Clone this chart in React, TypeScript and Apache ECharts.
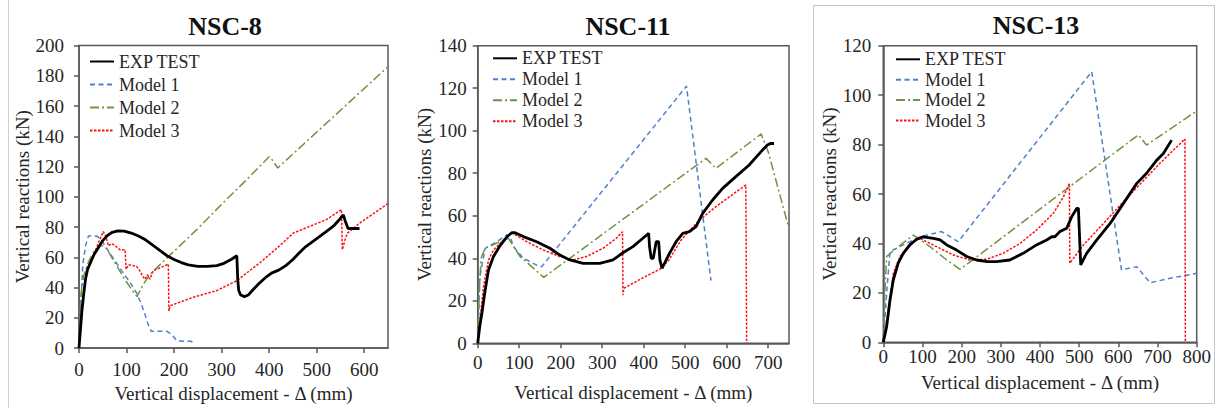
import React, { useEffect, useRef } from "react";
import * as echarts from "echarts";

const FONT = "Liberation Serif";

const seriesNames = ["EXP TEST", "Model 1", "Model 2", "Model 3"];
const panelTitles = ["NSC-8", "NSC-11", "NSC-13"];
const xAxisTitle = "Vertical displacement - Δ (mm)";
const yAxisTitle = "Vertical reactions (kN)";

const xMaxes = [650, 750, 800];
const yMaxes = [200, 140, 120];
const xTicks8 = [0, 100, 200, 300, 400, 500, 600];
const xTicks11 = [0, 100, 200, 300, 400, 500, 600, 700];
const xTicks13 = [0, 100, 200, 300, 400, 500, 600, 700, 800];
const yTicks8 = [0, 20, 40, 60, 80, 100, 120, 140, 160, 180, 200];
const yTicks11 = [0, 20, 40, 60, 80, 100, 120, 140];
const yTicks13 = [0, 20, 40, 60, 80, 100, 120];

// ---------- NSC-8 ----------
const nsc8Exp = [
  [0, 0], [3, 12], [6, 24], [10, 36], [14, 46], [18, 52], [25, 57], [32, 62], [40, 66], [50, 71],
  [60, 74.5], [70, 76.5], [82, 77.5], [95, 77.3], [110, 76], [125, 74], [140, 71.5], [155, 68],
  [170, 64.5], [185, 61], [200, 58.5], [215, 56.5], [230, 55], [250, 54], [270, 54], [290, 54.5],
  [305, 56], [320, 58.5], [332, 61], [334, 45], [336, 38], [340, 35], [348, 34], [356, 35],
  [366, 38.5], [378, 42.5], [392, 46.5], [405, 49.5], [420, 51.5], [435, 54.5], [450, 58.5],
  [462, 62.5], [475, 66.5], [490, 70], [505, 73.5], [520, 77], [535, 80.5], [548, 85], [556, 88],
  [560, 84], [566, 79], [575, 79], [590, 79],
];
const nsc8M1 = [
  [0, 0], [4, 30], [8, 55], [14, 68], [20, 74], [30, 74.5], [40, 73.5], [50, 70], [60, 65], [75, 58],
  [90, 51], [105, 44.5], [120, 37], [130, 30], [138, 23], [145, 16], [152, 11], [170, 11], [185, 11],
  [195, 9], [205, 5], [215, 4.5], [235, 4.5], [242, 3.5],
];
const nsc8M2 = [
  [0, 0], [2, 20], [5, 38], [10, 48], [20, 57], [32, 64], [45, 68], [55, 67], [65, 62], [80, 54],
  [95, 46], [110, 39], [122, 34], [135, 42], [150, 49], [200, 64], [250, 79], [300, 95], [350, 110.5],
  [400, 126.5], [405, 125], [418, 119], [650, 186],
];
const nsc8M3 = [
  [0, 0], [2, 15], [9, 34], [16, 51], [30, 61], [44, 72], [51, 77], [56, 74], [58, 72], [62, 67.5],
  [68, 69], [75, 68], [86, 65], [97, 65], [99, 52], [104, 55], [112, 54.5], [121, 54], [128, 51],
  [135, 47], [139, 45.5], [144, 48.5], [149, 45.5], [156, 51], [170, 53], [188, 55.5], [189, 24.5],
  [192, 28], [240, 33.5], [290, 38], [332, 44.5], [381, 56.5], [420, 67], [451, 76], [490, 81],
  [521, 85], [552, 91.5], [554, 65], [560, 72], [565, 76], [590, 82.5], [620, 89], [650, 95.5],
];

// ---------- NSC-11 ----------
const nsc11Exp = [
  [0, 0], [5, 8], [10, 14], [18, 25], [26, 34.5], [38, 40.8], [54, 46], [70, 50], [82, 52], [90, 52],
  [110, 50.2], [142, 47.8], [174, 44.7], [198, 41.5], [222, 39.2], [254, 37.6], [294, 37.6],
  [326, 39.2], [350, 42.6], [374, 45.5], [398, 49.4], [412, 51.7], [414, 45.5], [418, 40], [423, 40],
  [430, 47.8], [436, 47.8], [439, 39.2], [444, 35.3], [450, 37.6], [462, 42.3], [478, 47.8],
  [494, 51.7], [510, 52.5], [526, 54.9], [542, 61.1], [566, 67.4], [590, 72.9], [622, 78.4],
  [654, 83.9], [686, 90.9], [698, 93.3], [705, 94], [714, 94],
];
const nsc11M1 = [
  [0, 0], [5, 31], [18, 44.7], [46, 47.8], [70, 51], [78, 50.5], [86, 45.5], [110, 40], [142, 36.8],
  [154, 36], [503, 121], [562, 29.5],
];
const nsc11M2 = [
  [0, 0], [4, 25], [8, 40], [18, 44.7], [45, 47], [74, 49.4], [102, 40.8], [126, 36.8], [159, 31],
  [550, 87], [574, 82.3], [683, 98.5], [700, 90], [750, 54],
];
const nsc11M3 = [
  [0, 0], [6, 12], [14, 26.6], [26, 39.2], [38, 43.9], [62, 48.6], [82, 52], [118, 47.8], [158, 43.9],
  [198, 40.8], [230, 39.2], [262, 40.8], [302, 44.7], [334, 49.4], [349, 52.5], [350, 22.7],
  [352, 25.9], [400, 31], [440, 35], [460, 39], [490, 48.6], [530, 57.2], [574, 64.3], [646, 74.5],
  [648, 0],
];

// ---------- NSC-13 ----------
const nsc13Exp = [
  [0, 0], [8.5, 6.3], [17, 17], [25.5, 25.2], [38, 32], [51, 36], [68, 39.4], [85, 41.7], [102, 42.7],
  [128, 42], [145, 41.4], [162, 39.4], [187, 37.3], [213, 34.7], [238, 33.3], [265, 32.6],
  [289, 32.6], [323, 33.3], [357, 36], [391, 39.4], [417, 41.4], [430, 42.7], [438, 42.7],
  [451, 44.8], [468, 46.1], [481, 50.8], [494, 54.2], [498, 54.2], [504, 31.3], [519, 36],
  [545, 41.4], [579, 48.1], [613, 56.2], [647, 64.3], [672, 68.4], [698, 73.7], [715, 76.4],
  [736, 81.8],
];
const nsc13M1 = [
  [0, 0], [8.5, 19.8], [17, 36.7], [51, 39.4], [94, 42.7], [149, 44.8], [191, 40.7], [532, 109.5],
  [608, 29.3], [647, 30.6], [681, 24.1], [732, 25.9], [800, 27.9],
];
const nsc13M2 = [
  [0, 0], [4, 20], [8.5, 34.7], [38, 38.7], [77, 43.4], [119, 38.7], [162, 33.3], [196, 29.5],
  [651, 83.9], [672, 79.8], [800, 93.6],
];
const nsc13M3 = [
  [0, 0], [8.5, 7.7], [25.5, 27.8], [42.6, 34.7], [68, 40], [94, 42], [136, 38.7], [179, 35.3],
  [221, 33.3], [264, 33.6], [306, 36], [349, 40], [391, 45.4], [434, 52.2], [460, 58.9], [475, 64.3],
  [476, 32], [511, 39.4], [562, 48.1], [613, 56.9], [706, 72.4], [770, 82.3], [771, 0],
];

const panelData = [
  [nsc8Exp, nsc8M1, nsc8M2, nsc8M3],
  [nsc11Exp, nsc11M1, nsc11M2, nsc11M3],
  [nsc13Exp, nsc13M1, nsc13M2, nsc13M3],
];
const xTickSets = [xTicks8, xTicks11, xTicks13];
const yTickSets = [yTicks8, yTicks11, yTicks13];

// layout (pixels)
const layout = [
  { left: 79, top: 45.5, width: 309, height: 303.5, titleX: 225, titleY: 26, yLabelMargin: 15, xLabelMargin: 12, xNameGap: 36, yNameGap: 46, legLeft: 89, legTop: 52.5, legGap: 5 },
  { left: 477.7, top: 45.7, width: 311.3, height: 297.6, titleX: 628, titleY: 26, yLabelMargin: 11, xLabelMargin: 10, xNameGap: 40, yNameGap: 42, legLeft: 492, legTop: 49.3, legGap: 3 },
  { left: 883.3, top: 45.7, width: 313.4, height: 296.6, titleX: 1036, titleY: 25, yLabelMargin: 12, xLabelMargin: 5, xNameGap: 31, yNameGap: 41, legLeft: 895, legTop: 50.3, legGap: 2.4 },
];

const lineStyles = [
  { color: "#000000", width: 2.8, type: "solid" as any },
  { color: "#4F81C9", width: 1.5, type: [5, 3.5] as any },
  { color: "#6F9440", width: 1.5, type: [9, 3, 2, 3] as any },
  { color: "#FF1010", width: 1.5, type: [2.5, 1.5] as any },
];

const AXIS_COLOR = "#595959";
const TEXT_COLOR = "#262626";

export default function App() {
  const ref = useRef<HTMLDivElement>(null);
  useEffect(() => {
    if (!ref.current) return;
    const chart = echarts.init(ref.current, undefined, { renderer: "svg" });

    const grid = layout.map((L) => ({
      left: L.left,
      top: L.top,
      width: L.width,
      height: L.height,
      show: true,
      borderColor: AXIS_COLOR,
      borderWidth: 1.5,
      backgroundColor: "transparent",
      containLabel: false,
    }));

    const xAxis = layout.map((L, i) => ({
      type: "value",
      gridIndex: i,
      min: 0,
      max: xMaxes[i],
      interval: 100,
      axisLine: { show: true, lineStyle: { color: AXIS_COLOR, width: 1.5 } },
      axisTick: { show: true, length: 5, lineStyle: { color: AXIS_COLOR, width: 1.5 }, customValues: xTickSets[i] },
      axisLabel: {
        show: true,
        customValues: xTickSets[i],
        margin: L.xLabelMargin,
        fontFamily: FONT,
        fontSize: 19,
        color: TEXT_COLOR,
      },
      splitLine: { show: false },
      name: xAxisTitle,
      nameLocation: "middle",
      nameGap: L.xNameGap,
      nameTextStyle: { fontFamily: FONT, fontSize: 19, color: TEXT_COLOR },
    }));

    const yAxis = layout.map((L, i) => ({
      type: "value",
      gridIndex: i,
      min: 0,
      max: yMaxes[i],
      interval: 20,
      axisLine: { show: true, lineStyle: { color: AXIS_COLOR, width: 1.5 } },
      axisTick: { show: true, length: 5, lineStyle: { color: AXIS_COLOR, width: 1.5 }, customValues: yTickSets[i] },
      axisLabel: {
        show: true,
        customValues: yTickSets[i],
        margin: L.yLabelMargin,
        fontFamily: FONT,
        fontSize: 19,
        color: TEXT_COLOR,
      },
      splitLine: { show: false },
      name: yAxisTitle,
      nameLocation: "middle",
      nameGap: L.yNameGap,
      nameTextStyle: { fontFamily: FONT, fontSize: 19, color: TEXT_COLOR },
    }));

    const series: any[] = [];
    panelData.forEach((sets, p) => {
      sets.forEach((data, s) => {
        series.push({
          type: "line",
          name: seriesNames[s],
          xAxisIndex: p,
          yAxisIndex: p,
          data,
          symbol: "none",
          showSymbol: false,
          smooth: false,
          lineStyle: lineStyles[s],
          itemStyle: { color: lineStyles[s].color },
          z: s === 0 ? 3 : 2,
          silent: true,
        });
      });
    });

    const legend = layout.map((L) => ({
      show: true,
      orient: "vertical",
      left: L.legLeft,
      top: L.legTop,
      padding: 0,
      itemWidth: 24,
      itemHeight: 12,
      itemGap: L.legGap,
      selectedMode: false,
      data: seriesNames,
      itemStyle: { opacity: 0 },
      textStyle: { fontFamily: FONT, fontSize: 18, color: TEXT_COLOR, lineHeight: 18 },
    }));

    const graphic: any[] = layout.map((L, i) => ({
      type: "text",
      x: L.titleX,
      y: L.titleY,
      style: {
        text: panelTitles[i],
        fontFamily: FONT,
        fontWeight: "bold",
        fontSize: 26,
        fill: "#111111",
        align: "center",
        verticalAlign: "middle",
      },
    }));
    graphic.push({
      type: "line",
      shape: { x1: 8.5, y1: 0, x2: 8.5, y2: 408 },
      style: { stroke: "#d0d0d0", lineWidth: 1 },
    });
    graphic.push({
      type: "rect",
      shape: { x: 813.5, y: 5.5, width: 401, height: 398 },
      style: { fill: "none", stroke: "#c4c4c4", lineWidth: 1 },
    });

    chart.setOption({
      animation: false,
      backgroundColor: "#ffffff",
      grid,
      xAxis,
      yAxis,
      legend,
      series,
      graphic,
    } as any);

    return () => chart.dispose();
  }, []);

  return (
    <div
      ref={ref}
      style={{ position: "absolute", left: 0, top: 0, width: 1217, height: 408 }}
    />
  );
}
